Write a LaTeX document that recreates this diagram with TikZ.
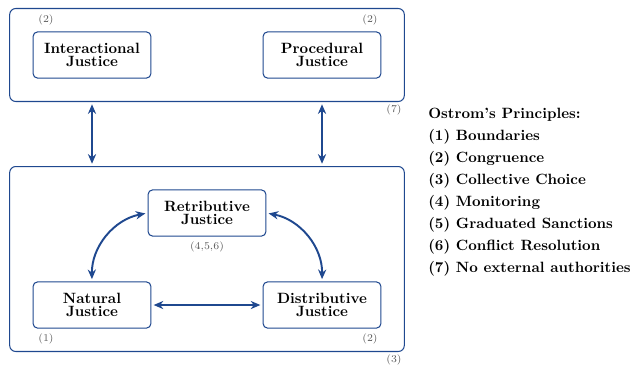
\documentclass[tikz,border=0pt]{standalone}
\usetikzlibrary{arrows.meta,fit}
\definecolor{ostromblue}{RGB}{31,72,143}
\begin{document}
\begin{tikzpicture}[x=0.0236cm, y=-0.0236cm,
    justicebox/.style={rectangle, rounded corners=3pt, draw=ostromblue, line width=0.7pt, align=center,
        minimum width=2.78cm, minimum height=1.09cm, inner sep=1pt,
        font=\fontsize{10}{8.6}\bfseries\selectfont},
    groupbox/.style={rectangle, rounded corners=4pt, draw=ostromblue, line width=0.7pt, inner sep=0.54cm},
    principle/.style={font=\scriptsize, text=black!65},
    link/.style={{Stealth[length=6.5pt,width=5.5pt]}-{Stealth[length=6.5pt,width=5.5pt]}, draw=ostromblue, line width=1.3pt, shorten <=1.5pt, shorten >=1.5pt}]
    \useasboundingbox (0,0) rectangle (632,368);

    \node (interactional) [justicebox] at (92, 55) {Interactional \\ Justice};
    \node (procedural) [justicebox] at (322, 55) {Procedural \\ Justice};
    \node (retributive) [justicebox] at (207, 213) {Retributive \\ Justice};
    \node (natural) [justicebox] at (92, 305) {Natural \\ Justice};
    \node (distributive) [justicebox] at (322, 305) {Distributive \\ Justice};

    \node (top) [groupbox, fit=(interactional) (procedural)] {};
    \node (bottom) [groupbox, fit=(retributive) (natural) (distributive)] {};

    \node (p1) [principle] at (46, 20) {(2)};
    \node (p2) [principle] at (370, 20) {(2)};
    \node (p3) [principle] at (394, 110) {(7)};
    \node (p4) [principle] at (207, 247) {(4,5,6)};
    \node (p5) [principle] at (46, 339) {(1)};
    \node (p6) [principle] at (370, 339) {(2)};
    \node (p7) [principle] at (394, 360) {(3)};

    \node (legend) [anchor=north west, align=left, inner sep=0pt, font=\fontsize{10}{14.8}\bfseries\selectfont] at (428, 108)
        {Ostrom's Principles: \\ (1) Boundaries \\ (2) Congruence \\ (3) Collective Choice \\
         (4) Monitoring \\ (5) Graduated Sanctions \\ (6) Conflict Resolution \\ (7) No external authorities};

    % arrows between the boxes
    \draw[link] (interactional |- top.south) -- (interactional |- bottom.north);
    \draw[link] (procedural |- top.south) -- (procedural |- bottom.north);
    \draw[link] (retributive.west) to[bend right=40] (natural.north);
    \draw[link] (retributive.east) to[bend left=40] (distributive.north);
    \draw[link] (natural.east) -- (distributive.west);
\end{tikzpicture}
\end{document}
